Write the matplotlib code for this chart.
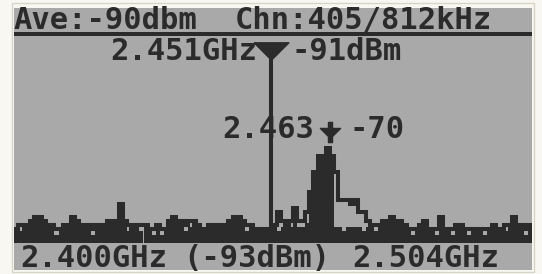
import numpy as np
import matplotlib.pyplot as plt
from matplotlib.patches import Rectangle

# Kanal ekseni: 2.400 GHz'ten başlayıp 812 kHz adımlı 128 kanal
f_start = 2.400
f_step = 0.0008125
n_chan = 128

# Tepe tutma (max hold) seviyeleri, dBm
peak_dbm = [
    -89, -88, -88, -88, -87, -86, -86, -87, -88, -88,
    -89, -89, -88, -89, -86, -87, -88, -88, -88, -89,
    -88, -89, -88, -87, -88, -87, -83, -87, -88, -89,
    -88, -88, -88, -89, -89, -88, -89, -89, -87, -86,
    -87, -87, -88, -87, -87, -88, -89, -89, -88, -88,
    -89, -88, -88, -87, -86, -86, -87, -88, -88, -89,
    -89, -90, -89, -91, -88, -85, -87, -88, -87, -84,
    -87, -87, -85, -80, -75, -71, -72, -69, -71, -75,
    -82, -82, -82, -83, -82, -85, -85, -87, -88, -88,
    -88, -87, -87, -86, -87, -87, -88, -89, -89, -89,
    -88, -87, -89, -89, -89, -86, -89, -89, -89, -88,
    -88, -89, -89, -89, -89, -89, -89, -89, -88, -89,
    -89, -88, -88, -86, -88, -88, -89, -88,
]

# Anlık seviyeler, dBm
live_dbm = [
    -89, -90, -88, -88, -87, -86, -86, -87, -88, -88,
    -91, -89, -90, -89, -86, -87, -88, -88, -88, -91,
    -88, -89, -88, -89, -88, -87, -83, -87, -90, -89,
    -88, -90, -88, -89, -91, -88, -91, -89, -87, -86,
    -87, -87, -90, -89, -87, -88, -89, -89, -88, -88,
    -89, -88, -88, -87, -86, -86, -87, -90, -88, -89,
    -89, -91, -89, -91, -89, -90, -89, -89, -89, -87,
    -89, -89, -88, -80, -75, -71, -72, -69, -71, -89,
    -89, -90, -89, -89, -89, -89, -90, -89, -88, -90,
    -88, -87, -87, -86, -87, -87, -88, -89, -91, -89,
    -88, -87, -89, -89, -91, -86, -89, -89, -91, -88,
    -88, -89, -91, -89, -89, -89, -91, -89, -88, -89,
    -89, -90, -88, -86, -88, -88, -91, -88,
]

ref_dbm = -93
marker1_freq = 2.4516
marker2_freq = 2.4634

header_left = "Ave:-90dbm"
header_right = "Chn:405/812kHz"
m1_freq_txt = "2.451GHz"
m1_level_txt = "-91dBm"
m2_freq_txt = "2.463"
m2_level_txt = "-70"
foot_left = "2.400GHz"
foot_mid = "(-93dBm)"
foot_right = "2.504GHz"

lcd_bg = "#a9a9a9"
ink = "#2b2b2b"
span = n_chan * f_step
pix_lw = 4.05 * 72 / 100  # bir LCD pikseli kalınlığı (pt)

freqs = f_start + (np.arange(n_chan) + 0.5) * f_step
edges = f_start + np.arange(n_chan + 1) * f_step


def px2f(x):
    # ekran pikselinden frekansa
    return f_start + (x - 14) / 518 * span


fig = plt.figure(figsize=(5.42, 2.74), dpi=100, facecolor="#f8f7f2")
ax = fig.add_axes([14 / 542, 4 / 274, 518 / 542, 262 / 274])
ax.set_facecolor(lcd_bg)
ax.set_xlim(f_start, f_start + span)
ax.set_ylim(-99.7, -35)
ax.axis("off")
ax.add_patch(Rectangle((0, 0), 1, 1, transform=ax.transAxes, color=lcd_bg, zorder=0))

fig.add_artist(Rectangle((12 / 542, 2 / 274), 522 / 542, 269 / 274,
                         transform=fig.transFigure, fill=False,
                         ec="#d8d4c8", lw=1))

# spektrum: anlık dolgu + tepe tutma çizgisi
live = np.array(live_dbm)
peak = np.array(peak_dbm)
ax.bar(freqs, live - ref_dbm, bottom=ref_dbm, width=f_step,
       color=ink, linewidth=0, zorder=2)
ax.stairs(peak - 0.5, edges, baseline=None, color=ink, lw=pix_lw, zorder=3)

# üst ayraç çizgisi
ax.axhspan(-42, -41, color=ink, lw=0, zorder=2)

# işaretçi 1
tri = [(-1, 0.5), (1, 0.5), (0, -0.5), (-1, 0.5)]
ax.vlines(marker1_freq, ref_dbm, -46, color=ink, lw=pix_lw, zorder=3)
ax.plot([marker1_freq], [-45.6], marker=tri, markersize=25, color=ink,
        linestyle="none", zorder=4)

# işaretçi 2
arrow = [(-0.5, 2.5), (0.5, 2.5), (0.5, 1), (2.5, 1), (0.5, -1), (0.5, -2.5),
         (-0.5, -2.5), (-0.5, -1), (-2.5, 1), (-0.5, 1), (-0.5, 2.5)]
ax.plot([marker2_freq], [-65.6], marker=arrow, markersize=14.5, color=ink,
        linestyle="none", zorder=4)

font = dict(family="DejaVu Sans Mono", weight="bold", color=ink, fontsize=22,
            va="baseline", zorder=5)
ax.text(px2f(14), -40.2, header_left, ha="left", **font)
ax.text(px2f(235), -40.2, header_right, ha="left", **font)
ax.text(px2f(257), -47.8, m1_freq_txt, ha="right", **font)
ax.text(px2f(292), -47.8, m1_level_txt, ha="left", **font)
ax.text(px2f(314), -67.1, m2_freq_txt, ha="right", **font)
ax.text(px2f(350), -67.1, m2_level_txt, ha="left", **font)
ax.text(px2f(20), -98.9, foot_left, ha="left", **font)
ax.text(px2f(183), -98.9, foot_mid, ha="left", **font)
ax.text(px2f(499), -98.9, foot_right, ha="right", **font)

fig.savefig("out.png", dpi=100, facecolor=fig.get_facecolor())
plt.close(fig)
